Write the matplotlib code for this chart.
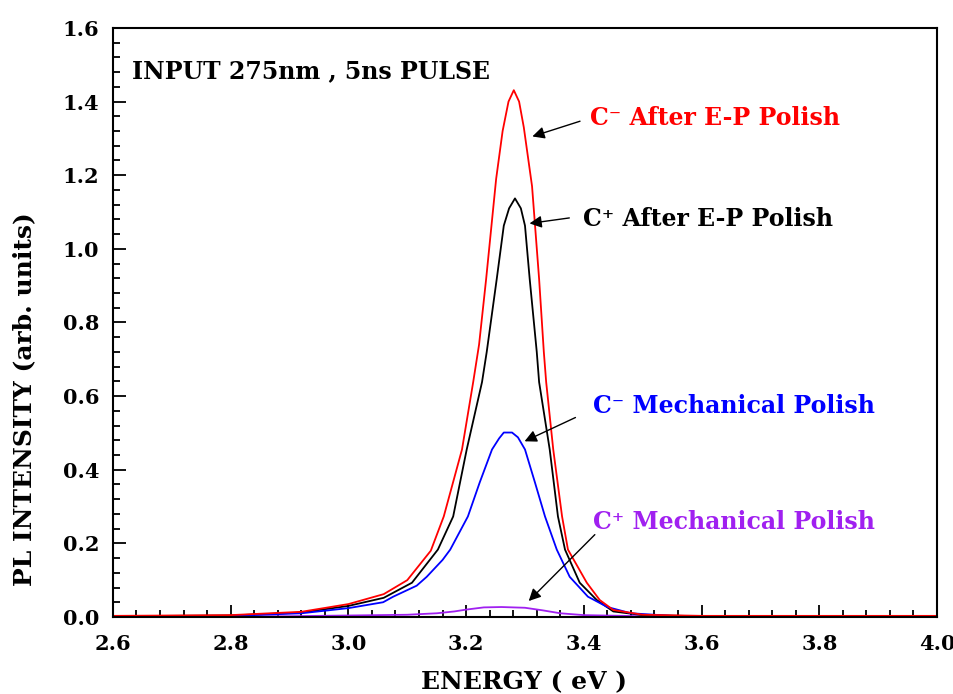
import matplotlib
matplotlib.use("Agg")
import matplotlib.pyplot as plt
from matplotlib.ticker import MultipleLocator

# PL spectra (energy in eV, intensity in arb. units)
red_e = [2.60, 2.80, 2.92, 3.00, 3.06, 3.10, 3.14, 3.162, 3.193, 3.212, 3.222, 3.234,
         3.251, 3.262, 3.272, 3.281, 3.290, 3.298, 3.305, 3.312, 3.324, 3.332, 3.336,
         3.348, 3.363, 3.373, 3.405, 3.427, 3.45, 3.50, 3.60, 4.00]
red_i = [0.003, 0.005, 0.014, 0.035, 0.062, 0.10, 0.18, 0.273, 0.455, 0.638, 0.74, 0.918,
         1.19, 1.32, 1.40, 1.431, 1.40, 1.33, 1.25, 1.17, 0.918, 0.72, 0.638,
         0.455, 0.273, 0.183, 0.093, 0.046, 0.019, 0.006, 0.003, 0.003]

blk_e = [2.60, 2.80, 2.92, 3.00, 3.06, 3.108, 3.152, 3.178, 3.201, 3.227, 3.235, 3.252,
         3.264, 3.273, 3.283, 3.293, 3.300, 3.308, 3.320, 3.324, 3.342, 3.356, 3.368,
         3.393, 3.422, 3.45, 3.50, 3.60, 4.00]
blk_i = [0.002, 0.004, 0.012, 0.030, 0.052, 0.093, 0.183, 0.273, 0.455, 0.638, 0.72, 0.918,
         1.063, 1.11, 1.137, 1.11, 1.063, 0.918, 0.72, 0.638, 0.455, 0.273, 0.183,
         0.093, 0.046, 0.015, 0.005, 0.002, 0.002]

blu_e = [2.60, 2.80, 2.92, 3.00, 3.059, 3.076, 3.116, 3.133, 3.160, 3.173, 3.203, 3.223,
         3.244, 3.256, 3.264, 3.278, 3.288, 3.300, 3.317, 3.334, 3.354, 3.376, 3.407,
         3.44, 3.48, 3.55, 4.00]
blu_i = [0.002, 0.003, 0.010, 0.024, 0.040, 0.055, 0.085, 0.109, 0.155, 0.183, 0.273, 0.365,
         0.455, 0.485, 0.501, 0.501, 0.488, 0.455, 0.365, 0.273, 0.183, 0.109, 0.055,
         0.027, 0.010, 0.003, 0.002]

pur_e = [2.60, 2.90, 3.10, 3.15, 3.18, 3.20, 3.23, 3.26, 3.30, 3.33, 3.36, 3.40, 3.50, 4.00]
pur_i = [0.0, 0.002, 0.006, 0.010, 0.015, 0.020, 0.026, 0.027, 0.025, 0.018, 0.010, 0.005, 0.002, 0.0]

RED = "#ff0000"
BLUE = "#0000ff"
PURPLE = "#a020f0"
FONT = "DejaVu Serif"

fig = plt.figure(figsize=(9.54, 6.94), dpi=100)
ax = fig.add_axes([0.1184, 0.1110, 0.8638, 0.8487])

ax.plot(pur_e, pur_i, color=PURPLE, lw=1.3)
ax.plot(blk_e, blk_i, color="k", lw=1.3)
ax.plot(blu_e, blu_i, color=BLUE, lw=1.3)
ax.plot(red_e, red_i, color=RED, lw=1.3)

ax.set_xlim(2.6, 4.0)
ax.set_ylim(0, 1.6)
ax.xaxis.set_major_locator(MultipleLocator(0.2))
ax.xaxis.set_minor_locator(MultipleLocator(0.04))
ax.yaxis.set_major_locator(MultipleLocator(0.2))
ax.yaxis.set_minor_locator(MultipleLocator(0.04))
ax.xaxis.set_major_formatter(plt.FormatStrFormatter("%.1f"))
ax.yaxis.set_major_formatter(plt.FormatStrFormatter("%.1f"))
ax.tick_params(which="both", direction="in", width=1.3, top=False, right=False)
ax.tick_params(which="major", length=9)
ax.tick_params(which="minor", length=5)
ax.tick_params(axis="x", pad=12)
ax.tick_params(axis="y", pad=10)
for s in ax.spines.values():
    s.set_linewidth(1.5)
for lab in ax.get_xticklabels() + ax.get_yticklabels():
    lab.set_fontfamily(FONT)
    lab.set_fontweight("bold")
    lab.set_fontsize(15)

ax.set_xlabel("ENERGY ( eV )", fontfamily=FONT, fontweight="bold", fontsize=18)
ax.set_ylabel("PL INTENSITY (arb. units)", fontfamily=FONT, fontweight="bold", fontsize=18)
ax.xaxis.set_label_coords(0.499, -0.090)
ax.yaxis.set_label_coords(-0.093, 0.37)

ax.text(2.632, 1.483, "INPUT 275nm , 5ns PULSE", fontfamily=FONT, fontweight="bold",
        fontsize=17, va="center", ha="left")

labels = [
    ("C⁻ After E-P Polish", RED, (3.410, 1.355), (3.398, 1.349), (3.308, 1.303)),
    ("C⁺ After E-P Polish", "k", (3.398, 1.082), (3.380, 1.085), (3.303, 1.068)),
    ("C⁻ Mechanical Polish", BLUE, (3.415, 0.572), (3.390, 0.545), (3.295, 0.474)),
    ("C⁺ Mechanical Polish", PURPLE, (3.415, 0.259), (3.422, 0.229), (3.303, 0.038)),
]
for txt, col, tpos, tail, head in labels:
    ax.text(tpos[0], tpos[1], txt, color=col, fontfamily=FONT, fontweight="bold",
            fontsize=17, va="center", ha="left")
    ax.annotate("", xy=head, xytext=tail,
                arrowprops=dict(arrowstyle="-|>", color="k", lw=1.0, mutation_scale=18))

fig.savefig("out.png", dpi=100)
